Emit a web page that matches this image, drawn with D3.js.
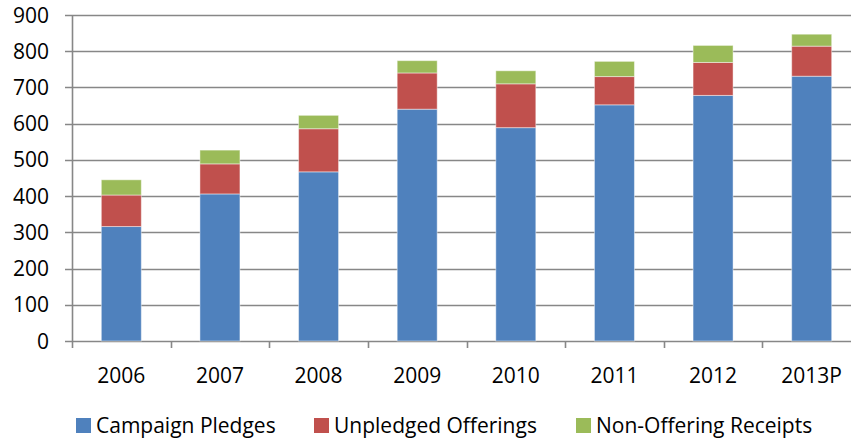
<!DOCTYPE html>
<html>
<head>
<meta charset="utf-8">
<script src="https://cdn.jsdelivr.net/npm/d3@7"></script>
<style>
  body { margin: 0; background: #fff; }
  text { font-family: "Open Sans", "Noto Sans", sans-serif; fill: #000; }
</style>
</head>
<body>
<script>
// Data
var years = ["2006", "2007", "2008", "2009", "2010", "2011", "2012", "2013P"];
var campaignPledges = [316, 406, 467, 640, 589, 652, 678, 731];
var unpledgedOfferings = [87, 83, 119, 100, 121, 78, 91, 83];
var nonOfferingReceipts = [42, 38, 37, 34, 36, 42, 47, 33];
var seriesNames = ["Campaign Pledges", "Unpledged Offerings", "Non-Offering Receipts"];
var seriesColors = ["#4F81BD", "#C0504D", "#9BBB59"];
var yTicks = [0, 100, 200, 300, 400, 500, 600, 700, 800, 900];

var W = 851, H = 440;
var margin = {top: 15, left: 72};
var plotW = 789, plotH = 326;

var rows = years.map(function(y, i) {
  return {year: y, a: campaignPledges[i], b: unpledgedOfferings[i], c: nonOfferingReceipts[i]};
});
var stack = d3.stack().keys(["a", "b", "c"])(rows);

var x = d3.scaleBand().domain(years).range([0, plotW]);
var y = d3.scaleLinear().domain([0, 900]).range([plotH, 0]);

var svg = d3.select("body").append("svg")
    .attr("width", W)
    .attr("height", H);

var g = svg.append("g")
    .attr("transform", "translate(" + margin.left + "," + margin.top + ")");

// gridlines
g.selectAll(".grid")
    .data(yTicks)
  .enter().append("line")
    .attr("x1", -7)
    .attr("x2", plotW)
    .attr("y1", function(d) { return Math.round(y(d)) + 0.5; })
    .attr("y2", function(d) { return Math.round(y(d)) + 0.5; })
    .attr("stroke", "#878787")
    .attr("stroke-width", 1.6);

// y axis line
g.append("line")
    .attr("x1", 0.5).attr("x2", 0.5)
    .attr("y1", y(900)).attr("y2", plotH + 7)
    .attr("stroke", "#878787")
    .attr("stroke-width", 1.6);

// x tick marks
g.selectAll(".xtick")
    .data(years.slice(1))
  .enter().append("line")
    .attr("x1", function(d) { return Math.round(x(d)) + 0.5; })
    .attr("x2", function(d) { return Math.round(x(d)) + 0.5; })
    .attr("y1", plotH)
    .attr("y2", plotH + 7)
    .attr("stroke", "#878787")
    .attr("stroke-width", 1.6);

// bars
var bw = 40;
g.selectAll(".layer")
    .data(stack)
  .enter().append("g")
    .attr("fill", function(d, i) { return seriesColors[i]; })
  .selectAll("rect")
    .data(function(d) { return d; })
  .enter().append("rect")
    .attr("x", function(d) { return x(d.data.year) + x.bandwidth() / 2 - bw / 2; })
    .attr("width", bw)
    .attr("y", function(d) { return y(d[1]); })
    .attr("height", function(d) { return y(d[0]) - y(d[1]); })
    .attr("stroke", "rgba(255,255,255,0.45)")
    .attr("stroke-width", 1);

// y labels
g.selectAll(".ylab")
    .data(yTicks)
  .enter().append("text")
    .attr("x", -23)
    .attr("y", function(d) { return y(d); })
    .attr("dy", "0.36em")
    .attr("text-anchor", "end")
    .style("font-size", "21px")
    .text(function(d) { return d; });

// x labels
g.selectAll(".xlab")
    .data(years)
  .enter().append("text")
    .attr("x", function(d) { return x(d) + x.bandwidth() / 2; })
    .attr("y", 368)
    .attr("text-anchor", "middle")
    .style("font-size", "21px")
    .text(function(d) { return d; });

// legend
var legendX = [76, 314, 576];
var legend = svg.selectAll(".legend")
    .data(seriesNames)
  .enter().append("g")
    .attr("transform", function(d, i) { return "translate(" + legendX[i] + ",418)"; });

legend.append("rect")
    .attr("width", 15)
    .attr("height", 15)
    .attr("fill", function(d, i) { return seriesColors[i]; });

legend.append("text")
    .attr("x", 20)
    .attr("y", 15)
    .style("font-size", "21px")
    .text(function(d) { return d; });
</script>
</body>
</html>
